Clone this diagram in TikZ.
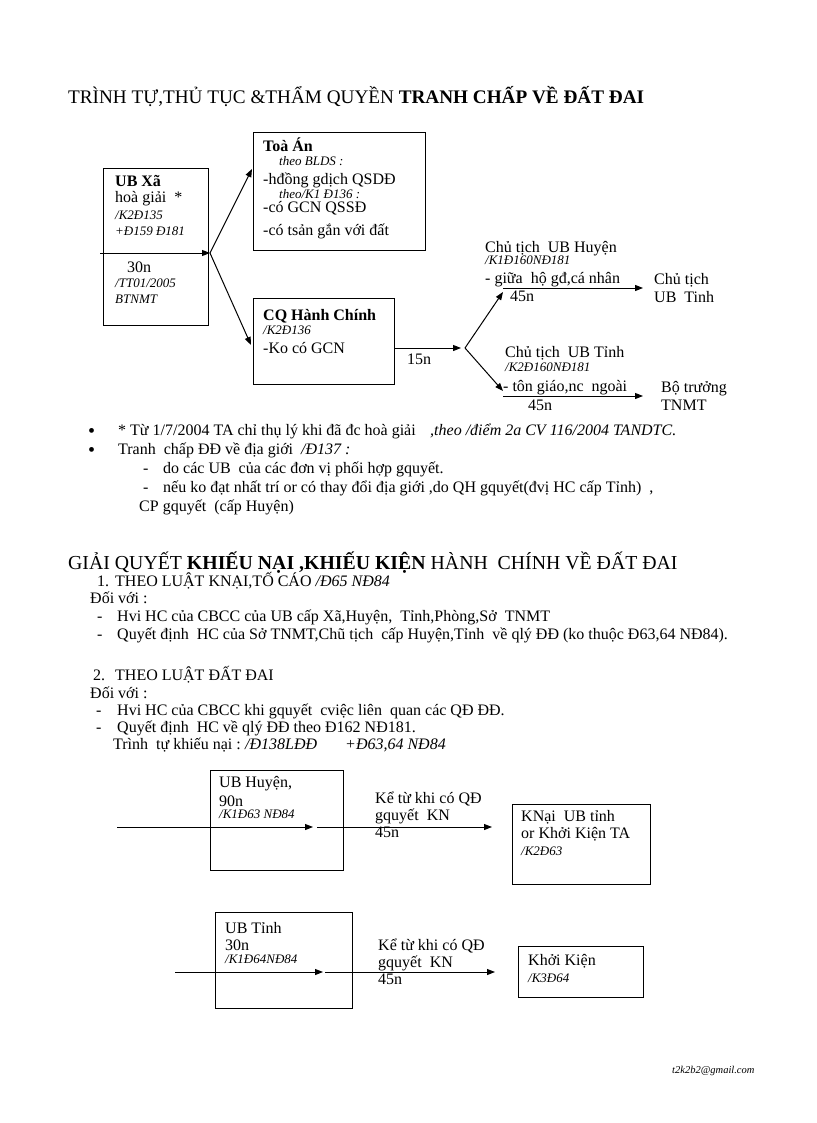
\documentclass[tikz,border=0pt]{standalone}
\usepackage{fontspec}
\setmainfont{Liberation Serif}
\usetikzlibrary{arrows.meta}
\tikzset{
  txt/.style={anchor=base west, inner sep=0pt, font=\fontsize{16}{19}\selectfont},
  itx/.style={txt, font=\fontsize{16}{19}\selectfont\itshape},
  bld/.style={txt, font=\fontsize{16}{19}\selectfont\bfseries},
  sml/.style={txt, font=\fontsize{13}{15}\selectfont\itshape},
  ttl/.style={txt, font=\fontsize{19.2}{22}\selectfont},
  box/.style={draw, line width=1pt, anchor=north west, inner sep=0pt},
  conn/.style={line width=1pt, -{Triangle[length=8pt,width=6pt]}},
}
\begin{document}
\begin{tikzpicture}[x=1pt,y=-1pt]
\fill[white] (0,0) rectangle (816,1123);
\path[use as bounding box] (0,0) rectangle (816,1123);

% ---------- Title 1
\node[ttl] (title1) at (68,104) {TRÌNH TỰ,THỦ TỤC \&THẨM QUYỀN \textbf{TRANH CHẤP VỀ ĐẤT ĐAI}};

% ---------- Top diagram boxes
\node[box, minimum width=105pt, minimum height=157pt] (ubxa) at (103,168) {};
\node[box, minimum width=172pt, minimum height=118pt] (toaan) at (253,132) {};
\node[box, minimum width=141pt, minimum height=86pt] (cqhc) at (253,298) {};

% UB Xa texts
\node[bld] (ubxa1) at (115,187) {UB Xã};
\node[txt] (ubxa2) at (115,203) {hoà giải~~*};
\node[sml] (ubxa3) at (115,219) {/K2Đ135};
\node[sml] (ubxa4) at (115,236) {+Đ159 Đ181};
\node[txt] (ubxa5) at (127,272) {30n};
\node[sml] (ubxa6) at (115,287) {/TT01/2005};
\node[sml] (ubxa7) at (115,303) {BTNMT};

% Toa An texts
\node[bld] (ta1) at (263,152) {Toà Án};
\node[sml] (ta2) at (279,166) {theo BLDS :};
\node[txt] (ta3) at (263,185) {-hđồng gdịch QSDĐ};
\node[sml] (ta4) at (279,199) {theo/K1 Đ136 :};
\node[txt] (ta5) at (263,213) {-có GCN QSSĐ};
\node[txt] (ta6) at (263,236) {-có tsản gắn với đất};

% CQ Hanh Chinh texts
\node[bld] (cq1) at (263,320) {CQ Hành Chính};
\node[sml] (cq2) at (263,334) {/K2Đ136};
\node[txt] (cq3) at (263,353) {-Ko có GCN};
\node[txt] (n15) at (407,364) {15n};

% connectors top
\coordinate (a0) at (100,253);
\coordinate (j1) at (210,253);
\coordinate (t1) at (252,169);
\coordinate (t2) at (251,345);
\draw[conn] (a0) -- (j1);
\draw[conn] (j1) -- (t1);
\draw[conn] (j1) -- (t2);

\coordinate (c1) at (394,348);
\coordinate (v) at (465,348);
\coordinate (u1) at (503,292);
\coordinate (d1) at (503,391);
\draw[conn, shorten >=4pt] (c1) -- (v);
\draw[conn] (v) -- (u1);
\draw[conn] (v) -- (d1);

\coordinate (h1s) at (503,288);
\coordinate (h1e) at (643,288);
\coordinate (h2s) at (503,396);
\coordinate (h2e) at (643,396);
\draw[conn] (h1s) -- (h1e);
\draw[conn] (h2s) -- (h2e);

% right texts
\node[txt] (r1) at (485,252) {Chủ tịch~ UB Huyện};
\node[sml] (r2) at (485,264) {/K1Đ160NĐ181};
\node[txt] (r3) at (485,283) {- giữa~ hộ gđ,cá nhân};
\node[txt] (r4) at (510,301) {45n};
\node[txt] (r5) at (654,284) {Chủ tịch};
\node[txt] (r6) at (654,302) {UB~ Tinh};
\node[txt] (r7) at (505,357) {Chủ tịch~ UB Tỉnh};
\node[sml] (r8) at (505,371) {/K2Đ160NĐ181};
\node[txt] (r9) at (503,391) {- tôn giáo,nc~ ngoài};
\node[txt] (r10) at (528,410) {45n};
\node[txt] (r11) at (661,392) {Bộ trưởng};
\node[txt] (r12) at (661,410) {TNMT};

% ---------- bullets
\node[txt, font=\fontsize{20}{20}\selectfont] (b1) at (88,437) {•};
\node[txt] (l1a) at (118,435) {* Từ 1/7/2004 TA chỉ thụ lý khi đã đc hoà giải};
\node[itx] (l1b) at (430,435) {,theo /điểm 2a CV 116/2004 TANDTC.};
\node[txt, font=\fontsize{20}{20}\selectfont] (b2) at (88,456) {•};
\node[txt] (l2a) at (118,454) {Tranh~ chấp ĐĐ về địa giới~ \textit{/Đ137 :}};
\node[txt] (l3d) at (143,473) {-};
\node[txt] (l3) at (163,473) {do các UB~ của các đơn vị phối hợp gquyết.};
\node[txt] (l4d) at (143,492) {-};
\node[txt] (l4) at (163,492) {nếu ko đạt nhất trí or có thay đổi địa giới ,do QH gquyết(đvị HC cấp Tỉnh)~ ,};
\node[txt] (l5) at (139,511) {CP gquyết~ (cấp Huyện)};

% ---------- Title 2
\node[ttl, font=\fontsize{19.8}{22}\selectfont] (title2) at (68,569) {GIẢI QUYẾT \textbf{KHIẾU NẠI ,KHIẾU KIỆN} HÀNH~ CHÍNH VỀ ĐẤT ĐAI};

\node[txt] (s1n) at (97,586) {1.};
\node[txt] (s1) at (115,586) {THEO LUẬT KNẠI,TỐ CÁO \textit{/Đ65 NĐ84}};
\node[txt] (s1d) at (90,603) {Đối với :};
\node[txt] (s1a) at (97,621) {-};
\node[txt] (s1at) at (117,621) {Hvi HC của CBCC của UB cấp Xã,Huyện,~ Tỉnh,Phòng,Sở~ TNMT};
\node[txt] (s1b) at (97,639) {-};
\node[txt] (s1bt) at (117,639) {Quyết định~ HC của Sở TNMT,Chũ tịch~ cấp Huyện,Tỉnh~ về qlý ĐĐ (ko thuộc Đ63,64 NĐ84).};

\node[txt] (s2n) at (93,680) {2.};
\node[txt] (s2) at (115,680) {THEO LUẬT ĐẤT ĐAI};
\node[txt] (s2d) at (90,698) {Đối với :};
\node[txt] (s2a) at (96,715) {-};
\node[txt] (s2at) at (117,715) {Hvi HC của CBCC khi gquyết~ cviệc liên~ quan các QĐ ĐĐ.};
\node[txt] (s2b) at (96,732) {-};
\node[txt] (s2bt) at (117,732) {Quyết định~ HC về qlý ĐĐ theo Đ162 NĐ181.};
\node[txt] (s2c) at (113,749) {Trình~ tự khiếu nại :};
\node[itx] (s2c2) at (245,749) {/Đ138LĐĐ};
\node[itx] (s2c3) at (345,749) {+Đ63,64 NĐ84};

% ---------- bottom diagram 1
\node[box, minimum width=133pt, minimum height=100pt] (ubh) at (210,770) {};
\node[box, minimum width=138pt, minimum height=80pt] (knai) at (512,804) {};
\node[txt] (ubh1) at (219,787) {UB Huyện,};
\node[txt] (ubh2) at (219,806) {90n};
\node[sml] (ubh3) at (219,818) {/K1Đ63 NĐ84};
\node[txt] (k1) at (375,803) {Kể từ khi có QĐ};
\node[txt] (k2) at (375,820) {gquyết~ KN};
\node[txt] (k3) at (375,837) {45n};
\node[txt] (kn1) at (521,821) {KNại~ UB tỉnh};
\node[txt] (kn2) at (521,838) {or Khởi Kiện TA};
\node[sml] (kn3) at (521,855) {/K2Đ63};
\coordinate (p0) at (117,827);
\coordinate (p1) at (313,827);
\coordinate (p2) at (317,827);
\coordinate (p3) at (492,827);
\draw[conn] (p0) -- (p1);
\draw[conn] (p2) -- (p3);

% ---------- bottom diagram 2
\node[box, minimum width=137pt, minimum height=96pt] (ubt) at (215,912) {};
\node[box, minimum width=125pt, minimum height=51pt] (kk) at (518,946) {};
\node[txt] (ubt1) at (225,933) {UB Tỉnh};
\node[txt] (ubt2) at (225,950) {30n};
\node[sml] (ubt3) at (225,963) {/K1Đ64NĐ84};
\node[txt] (q1) at (378,950) {Kể từ khi có QĐ};
\node[txt] (q2) at (378,967) {gquyết~ KN};
\node[txt] (q3) at (378,984) {45n};
\node[txt] (kk1) at (528,965) {Khởi Kiện};
\node[sml] (kk2) at (528,982) {/K3Đ64};
\coordinate (m0) at (175,972);
\coordinate (m1) at (323,972);
\coordinate (m2) at (325,972);
\coordinate (m3) at (495,972);
\draw[conn] (m0) -- (m1);
\draw[conn] (m2) -- (m3);

% email
\node[txt, font=\fontsize{10.5}{12}\selectfont\itshape] (mail) at (672,1073) {t2k2b2@gmail.com};
\end{tikzpicture}
\end{document}
